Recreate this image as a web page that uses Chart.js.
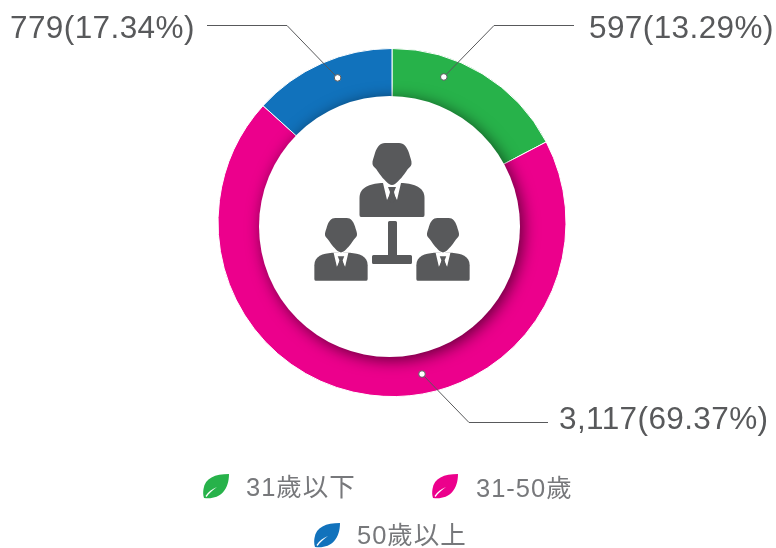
<!DOCTYPE html>
<html>
<head>
<meta charset="utf-8">
<title>年齡分布</title>
<script src="https://cdn.jsdelivr.net/npm/chart.js@4/dist/chart.umd.min.js"></script>
<style>
  html, body { margin: 0; padding: 0; background: #fff; }
  canvas { display: block; }
</style>
</head>
<body>
<canvas id="age-chart" width="776" height="548"></canvas>
<script>
/* Donut de edades. Ojo: en el original las etiquetas de verde y azul
   estan cruzadas respecto al tamano de la porcion; se respeta tal cual. */
const categories = ['31歲以下', '31-50歲', '50歲以上'];
const sliceValues = [779, 3117, 597];
const calloutTexts = ['597(13.29%)', '3,117(69.37%)', '779(17.34%)'];
const sliceColors = ['#27b24a', '#ec008c', '#1172bc'];

const TEXT_DARK = '#58595b';
const TEXT_LEGEND = '#77787b';
const FONT_LATIN = '"Liberation Sans", "Noto Sans CJK TC", sans-serif';

// dot angle (deg from 12 o'clock), elbow, line end, text start
const calloutLayout = [
  { angle: 19.6, elbow: [494, 25], end: [574, 25], textX: 589, baseY: 38 },
  { angle: 168.8, elbow: [469, 422], end: [548, 422], textX: 559, baseY: 429 },
  { angle: -20.6, elbow: [287, 25], end: [207, 25], textX: 10, baseY: 38 }
];

const legendLayout = [
  { iconX: 203, iconY: 474, textX: 246, baseY: 496 },
  { iconX: 432, iconY: 474, textX: 476, baseY: 497 },
  { iconX: 314, iconY: 523, textX: 357, baseY: 544 }
];

function drawPerson(ctx, cx, top, s, bodyShift) {
  ctx.save();
  ctx.translate(cx, top);
  ctx.scale(s, s);
  ctx.fillStyle = TEXT_DARK;

  ctx.save();
  ctx.translate(0, bodyShift);
  // body
  ctx.beginPath();
  ctx.moveTo(-31, 74);
  ctx.quadraticCurveTo(-32.5, 74, -32.5, 72);
  ctx.lineTo(-32.5, 55);
  ctx.bezierCurveTo(-32.5, 44, -22, 41, -11, 40);
  ctx.lineTo(11, 40);
  ctx.bezierCurveTo(22, 41, 32.5, 44, 32.5, 55);
  ctx.lineTo(32.5, 72);
  ctx.quadraticCurveTo(32.5, 74, 31, 74);
  ctx.closePath();
  ctx.fill();

  // collar
  ctx.fillStyle = '#fff';
  ctx.beginPath();
  ctx.moveTo(-9, 40);
  ctx.lineTo(-5, 57);
  ctx.lineTo(0, 47);
  ctx.lineTo(5, 57);
  ctx.lineTo(9, 40);
  ctx.closePath();
  ctx.fill();

  // tie
  ctx.fillStyle = TEXT_DARK;
  ctx.beginPath();
  ctx.moveTo(-4, 44);
  ctx.lineTo(4, 44);
  ctx.lineTo(2, 49);
  ctx.lineTo(4, 57);
  ctx.lineTo(0, 60);
  ctx.lineTo(-4, 57);
  ctx.lineTo(-2, 49);
  ctx.closePath();
  ctx.fill();
  ctx.restore();

  // head
  ctx.beginPath();
  ctx.moveTo(-7, 0);
  ctx.bezierCurveTo(-12, 0, -15, 4, -17, 10);
  ctx.bezierCurveTo(-18, 14, -20, 18, -19.5, 21);
  ctx.bezierCurveTo(-19, 24, -16, 25, -14.5, 28);
  ctx.bezierCurveTo(-12, 32, -7, 38, -3, 41);
  ctx.quadraticCurveTo(0, 43, 3, 41);
  ctx.bezierCurveTo(7, 38, 12, 32, 14.5, 28);
  ctx.bezierCurveTo(16, 25, 19, 24, 19.5, 21);
  ctx.bezierCurveTo(20, 18, 18, 14, 17, 10);
  ctx.bezierCurveTo(15, 4, 12, 0, 7, 0);
  ctx.closePath();
  ctx.strokeStyle = '#fff';
  ctx.lineWidth = 1.5;
  ctx.stroke();
  ctx.fill();
  ctx.restore();
}

function drawLeaf(ctx, x, y, color) {
  ctx.save();
  ctx.translate(x, y);
  ctx.fillStyle = color;
  ctx.beginPath();
  ctx.moveTo(26, 0);
  ctx.bezierCurveTo(12, 0, 2, 4, 0.5, 15);
  ctx.bezierCurveTo(0, 18, 0, 21, 1, 24);
  ctx.bezierCurveTo(16, 26, 26, 17, 26, 0);
  ctx.closePath();
  ctx.fill();
  // vein
  ctx.fillStyle = '#fff';
  ctx.beginPath();
  ctx.moveTo(2.5, 22);
  ctx.bezierCurveTo(5, 18, 9, 15, 14, 13);
  ctx.bezierCurveTo(10, 16, 6, 19, 3.5, 23);
  ctx.closePath();
  ctx.fill();
  ctx.restore();
}

const ringExtras = {
  id: 'ringExtras',
  afterDatasetsDraw(chart) {
    const { ctx } = chart;
    const arcs = chart.getDatasetMeta(0).data;
    const first = arcs[0];
    const cx = first.x, cy = first.y;
    const outer = first.outerRadius;

    // the centre disc sits a bit off the ring centre, down and left
    ctx.save();
    ctx.shadowColor = 'rgba(0,0,0,0.6)';
    ctx.shadowBlur = 16;
    ctx.shadowOffsetX = 3;
    ctx.shadowOffsetY = 3;
    ctx.fillStyle = '#fff';
    ctx.beginPath();
    ctx.arc(cx - 2.5, cy + 4, 130.5, 0, Math.PI * 2);
    ctx.fill();
    ctx.restore();

    // icon
    drawPerson(ctx, 392, 143, 1, 0);
    drawPerson(ctx, 341, 218, 0.82, 2.5);
    drawPerson(ctx, 443, 218, 0.82, 2.5);
    ctx.fillStyle = TEXT_DARK;
    ctx.beginPath();
    ctx.roundRect(388, 221, 9, 38, 1.5);
    ctx.roundRect(372, 255, 40, 9, 1.5);
    ctx.fill();

    // callouts
    const mid = outer - 19.5;
    calloutLayout.forEach((c, i) => {
      const a = c.angle * Math.PI / 180;
      const dx = cx + Math.sin(a) * mid;
      const dy = cy - Math.cos(a) * mid;
      ctx.strokeStyle = TEXT_DARK;
      ctx.lineWidth = 1;
      ctx.beginPath();
      ctx.moveTo(dx, dy);
      ctx.lineTo(c.elbow[0], c.elbow[1] + 0.5);
      ctx.lineTo(c.end[0], c.end[1] + 0.5);
      ctx.stroke();
      ctx.fillStyle = '#fff';
      ctx.beginPath();
      ctx.arc(dx, dy, 3.3, 0, Math.PI * 2);
      ctx.fill();
      ctx.stroke();

      ctx.fillStyle = TEXT_DARK;
      ctx.font = '31.5px ' + FONT_LATIN;
      ctx.letterSpacing = '0.4px';
      ctx.textAlign = 'left';
      ctx.textBaseline = 'alphabetic';
      ctx.fillText(calloutTexts[i], c.textX, c.baseY);
      ctx.letterSpacing = '0px';
    });

    // legend
    categories.forEach((name, i) => {
      const l = legendLayout[i];
      drawLeaf(ctx, l.iconX, l.iconY, sliceColors[i]);
      ctx.fillStyle = TEXT_LEGEND;
      ctx.font = '25.5px ' + FONT_LATIN;
      ctx.letterSpacing = '1px';
      ctx.textAlign = 'left';
      ctx.textBaseline = 'alphabetic';
      ctx.fillText(name, l.textX, l.baseY);
      ctx.letterSpacing = '0px';
    });
  }
};

new Chart(document.getElementById('age-chart'), {
  type: 'doughnut',
  data: {
    labels: categories,
    datasets: [{
      data: sliceValues,
      backgroundColor: sliceColors,
      borderColor: '#fff',
      borderWidth: 1
    }]
  },
  options: {
    responsive: false,
    animation: false,
    cutout: '68%',
    layout: { padding: { left: 217.5, right: 209.5, top: 48, bottom: 151 } },
    plugins: {
      legend: { display: false },
      tooltip: { enabled: false }
    }
  },
  plugins: [ringExtras]
});
</script>
</body>
</html>
